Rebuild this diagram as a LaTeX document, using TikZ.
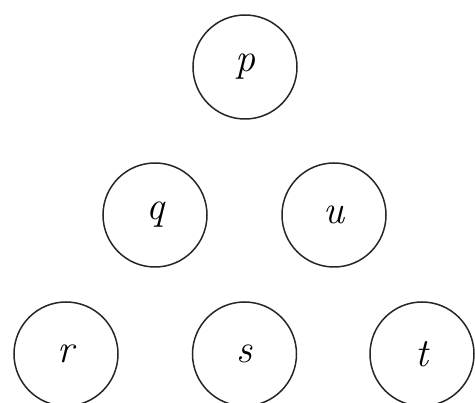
\documentclass[tikz,border=0pt]{standalone}
\usepackage{fontspec}
\begin{document}
\begin{tikzpicture}[x=1pt,y=-1pt,
  vert/.style={draw=black!85, line width=1.5pt, circle, minimum size=104pt, inner sep=0pt,
    font=\fontsize{40}{44}\selectfont\itshape}]
\useasboundingbox (0,0) rectangle (475,403);
\node[vert] (p) at (245,67) {p};
\node[vert] (q) at (155,215) {q};
\node[vert] (u) at (334,215) {u};
\node[vert] (r) at (66,354) {r};
\node[vert] (s) at (244.5,354) {s};
\node[vert] (t) at (422,354) {t};
\end{tikzpicture}
\end{document}
